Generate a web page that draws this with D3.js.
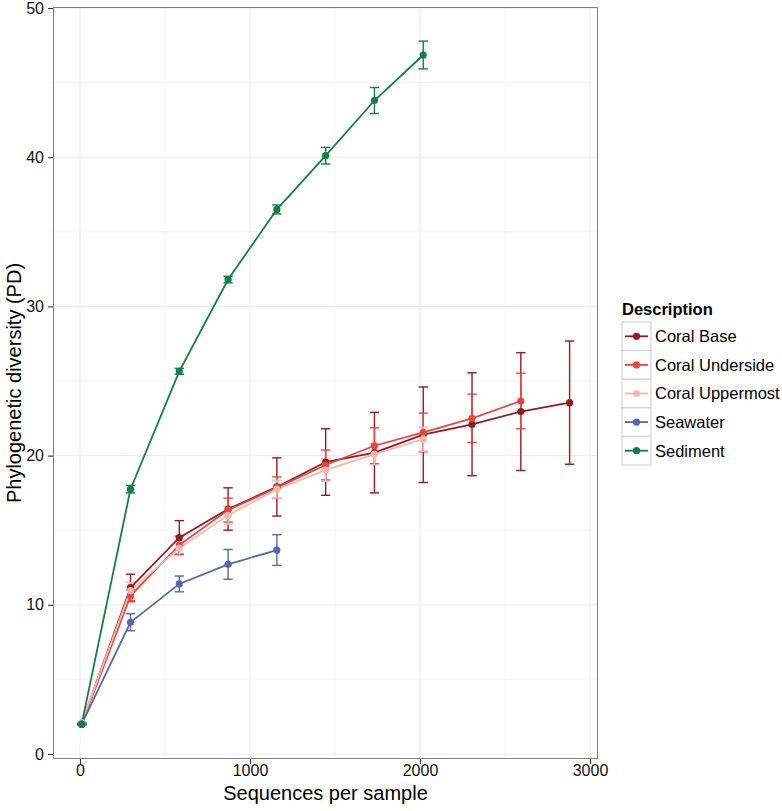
<!DOCTYPE html>
<html>
<head>
<meta charset="utf-8">
<script src="https://cdn.jsdelivr.net/npm/d3@7"></script>
<style>
  body { margin: 0; background: #fff; }
  svg text { font-family: "Liberation Sans", Helvetica, Arial, sans-serif; }
</style>
</head>
<body>
<div id="chart"></div>
<script>
// rarefaction depths (sequences per sample)
const depths = [10, 297, 584, 871, 1158, 1445, 1732, 2019, 2306, 2593, 2880];

// mean PD and error half-width per group
const coralBase = [2.05, 11.15, 14.5, 16.42, 17.9, 19.57, 20.2, 21.4, 22.1, 22.95, 23.55];
const coralBaseErr = [0.05, 0.9, 1.14, 1.42, 1.95, 2.23, 2.7, 3.2, 3.45, 3.95, 4.13];

const coralUnderside = [2.0, 10.6, 14.0, 16.35, 17.85, 19.37, 20.66, 21.55, 22.5, 23.66];
const coralUndersideErr = [0.05, 0.4, 0.6, 0.8, 0.72, 1.0, 1.2, 1.3, 1.62, 1.86];

const coralUppermost = [2.1, 10.95, 13.8, 16.0, 17.75, 19.03, 20.1, 21.1];
const coralUppermostErr = [0.05, 0.55, 0.5, 0.6, 0.6, 0.75, 0.7, 0.8];

const seawater = [2.0, 8.83, 11.4, 12.71, 13.67];
const seawaterErr = [0.03, 0.57, 0.53, 1.0, 1.03];

const sediment = [2.0, 17.75, 25.65, 31.8, 36.5, 40.1, 43.8, 46.85];
const sedimentErr = [0.03, 0.25, 0.2, 0.22, 0.3, 0.56, 0.87, 0.93];

const groupNames = ['Coral Base', 'Coral Underside', 'Coral Uppermost', 'Seawater', 'Sediment'];
const groupColors = ['#951b1e', '#e8463d', '#f6b8ae', '#5567b1', '#147f45'];

const xTicks = [0, 1000, 2000, 3000];
const xMinor = [500, 1500, 2500];
const yTicks = [0, 10, 20, 30, 40, 50];
const yMinor = [5, 15, 25, 35, 45];

const xLabel = 'Sequences per sample';
const yLabel = 'Phylogenetic diversity (PD)';
const legendTitle = 'Description';

const series = [
  { name: groupNames[0], mean: coralBase, err: coralBaseErr },
  { name: groupNames[1], mean: coralUnderside, err: coralUndersideErr },
  { name: groupNames[2], mean: coralUppermost, err: coralUppermostErr },
  { name: groupNames[3], mean: seawater, err: seawaterErr },
  { name: groupNames[4], mean: sediment, err: sedimentErr }
].map((s, i) => ({
  ...s,
  color: groupColors[i],
  points: s.mean.map((v, j) => ({ x: depths[j], y: v, e: s.err[j] }))
}));

const W = 782, H = 811;
const P = { LEFT: 53, RIGHT: 598, TOP: 7, BOTTOM: 759 };

const svg = d3.select('#chart').append('svg')
  .attr('width', W)
  .attr('height', H);

// scales (domain includes ggplot's expansion)
const x = d3.scaleLinear().domain([-158.8, 3047]).range([P.LEFT, P.RIGHT]);
const y = d3.scaleLinear().domain([-0.335, 50.067]).range([P.BOTTOM, P.TOP]);

// panel background + grid
const grid = svg.append('g');
grid.append('rect')
  .attr('x', P.LEFT).attr('y', P.TOP)
  .attr('width', P.RIGHT - P.LEFT).attr('height', P.BOTTOM - P.TOP)
  .attr('fill', '#fff');

grid.selectAll('.xminor').data(xMinor).join('line')
  .attr('x1', d => x(d)).attr('x2', d => x(d))
  .attr('y1', P.TOP).attr('y2', P.BOTTOM)
  .attr('stroke', '#f6f6f6').attr('stroke-width', 1);
grid.selectAll('.yminor').data(yMinor).join('line')
  .attr('y1', d => y(d)).attr('y2', d => y(d))
  .attr('x1', P.LEFT).attr('x2', P.RIGHT)
  .attr('stroke', '#f6f6f6').attr('stroke-width', 1);
grid.selectAll('.xmajor').data(xTicks).join('line')
  .attr('x1', d => x(d)).attr('x2', d => x(d))
  .attr('y1', P.TOP).attr('y2', P.BOTTOM)
  .attr('stroke', '#ebebeb').attr('stroke-width', 1);
grid.selectAll('.ymajor').data(yTicks).join('line')
  .attr('y1', d => y(d)).attr('y2', d => y(d))
  .attr('x1', P.LEFT).attr('x2', P.RIGHT)
  .attr('stroke', '#ebebeb').attr('stroke-width', 1);

// error bars
const capHalf = 4.7;
const eb = svg.append('g');
series.forEach(s => {
  const g = eb.append('g').attr('stroke', s.color).attr('stroke-width', 1.4).attr('fill', 'none');
  g.selectAll('.v').data(s.points).join('line')
    .attr('x1', d => x(d.x)).attr('x2', d => x(d.x))
    .attr('y1', d => y(d.y - d.e)).attr('y2', d => y(d.y + d.e));
  g.selectAll('.top').data(s.points).join('line')
    .attr('x1', d => x(d.x) - capHalf).attr('x2', d => x(d.x) + capHalf)
    .attr('y1', d => y(d.y + d.e)).attr('y2', d => y(d.y + d.e));
  g.selectAll('.bot').data(s.points).join('line')
    .attr('x1', d => x(d.x) - capHalf).attr('x2', d => x(d.x) + capHalf)
    .attr('y1', d => y(d.y - d.e)).attr('y2', d => y(d.y - d.e));
});

// lines + points
const line = d3.line().x(d => x(d.x)).y(d => y(d.y));
series.forEach(s => {
  svg.append('path')
    .attr('d', line(s.points))
    .attr('fill', 'none')
    .attr('stroke', s.color)
    .attr('stroke-width', 1.8);
});
series.forEach(s => {
  svg.append('g').selectAll('circle').data(s.points).join('circle')
    .attr('cx', d => x(d.x)).attr('cy', d => y(d.y))
    .attr('r', 3.6)
    .attr('fill', s.color);
});

// panel border
svg.append('rect')
  .attr('x', P.LEFT + 0.5).attr('y', P.TOP + 0.5)
  .attr('width', P.RIGHT - P.LEFT - 1).attr('height', P.BOTTOM - P.TOP - 1)
  .attr('fill', 'none').attr('stroke', '#7f7f7f').attr('stroke-width', 1);

// axes
const xAxis = svg.append('g')
  .attr('transform', `translate(0, ${P.BOTTOM})`)
  .call(d3.axisBottom(x).tickValues(xTicks).tickSize(5).tickPadding(1).tickFormat(d3.format('d')));
const yAxis = svg.append('g')
  .attr('transform', `translate(${P.LEFT}, 0)`)
  .call(d3.axisLeft(y).tickValues(yTicks).tickSize(5).tickPadding(4).tickFormat(d3.format('d')));

[xAxis, yAxis].forEach(a => {
  a.select('.domain').remove();
  a.selectAll('line').attr('stroke', '#333').attr('stroke-width', 1.1);
  a.selectAll('text').attr('fill', '#111').style('font-size', '16px');
});

svg.append('text')
  .attr('x', (P.LEFT + P.RIGHT) / 2)
  .attr('y', 800)
  .attr('text-anchor', 'middle')
  .style('font-size', '20px')
  .text(xLabel);

svg.append('text')
  .attr('transform', `translate(21, ${(P.TOP + P.BOTTOM) / 2}) rotate(-90)`)
  .attr('text-anchor', 'middle')
  .style('font-size', '20px')
  .text(yLabel);

// legend
const LG = { X: 622, Y: 322, KEY: 29, ROW: 28.6 };
const legend = svg.append('g');
legend.append('text')
  .attr('x', LG.X)
  .attr('y', LG.Y - 7)
  .style('font-size', '16.5px')
  .style('font-weight', 'bold')
  .text(legendTitle);

series.forEach((s, i) => {
  const row = legend.append('g').attr('transform', `translate(${LG.X}, ${LG.Y + i * LG.ROW})`);
  row.append('rect')
    .attr('x', 0).attr('y', 0)
    .attr('width', LG.KEY).attr('height', LG.ROW)
    .attr('fill', '#fff').attr('stroke', '#d4d4d4').attr('stroke-width', 1.2);
  row.append('line')
    .attr('x1', 3).attr('x2', LG.KEY - 3)
    .attr('y1', LG.ROW / 2).attr('y2', LG.ROW / 2)
    .attr('stroke', s.color).attr('stroke-width', 1.8);
  row.append('circle')
    .attr('cx', LG.KEY / 2).attr('cy', LG.ROW / 2)
    .attr('r', 3.6).attr('fill', s.color);
  row.append('text')
    .attr('x', LG.KEY + 4)
    .attr('y', LG.ROW / 2)
    .attr('dy', '0.36em')
    .style('font-size', '16.5px')
    .text(s.name);
});
</script>
</body>
</html>
